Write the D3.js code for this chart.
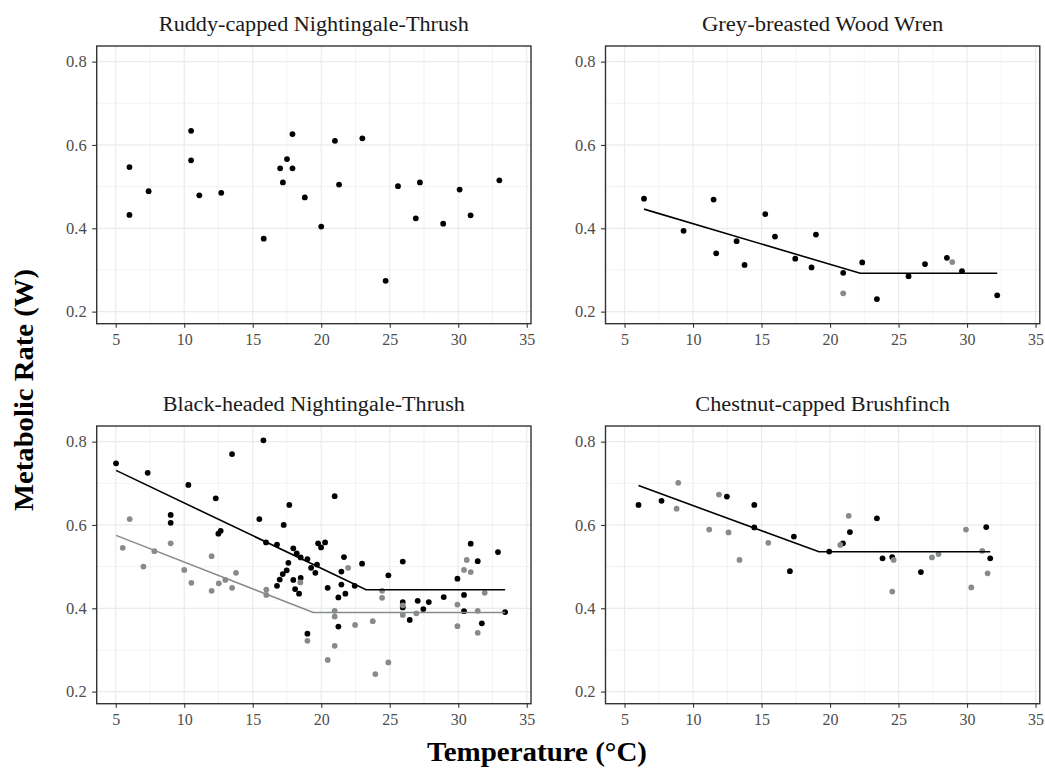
<!DOCTYPE html>
<html>
<head>
<meta charset="utf-8">
<script src="https://cdn.jsdelivr.net/npm/d3@7"></script>
<style>
  html, body { margin: 0; padding: 0; background: #ffffff; }
  svg { display: block; font-family: "Liberation Serif", "Times New Roman", serif; }
</style>
</head>
<body>
<svg id="chart" width="1045" height="772"></svg>
<script>
// ---------------- DATA ----------------
const panelTitles = [
  "Ruddy-capped Nightingale-Thrush",
  "Grey-breasted Wood Wren",
  "Black-headed Nightingale-Thrush",
  "Chestnut-capped Brushfinch"
];
const xTicks = [5, 10, 15, 20, 25, 30, 35];
const yTicks = [0.2, 0.4, 0.6, 0.8];
const xMinor = [7.5, 12.5, 17.5, 22.5, 27.5, 32.5];
const yMinor = [0.3, 0.5, 0.7];
const xLabel = "Temperature (°C)";
const yLabel = "Metabolic Rate (W)";

// Ruddy-capped Nightingale-Thrush
const ruddyBlack = [[6.0,0.547],[6.0,0.432],[7.4,0.489],[10.5,0.634],[10.5,0.563],[11.1,0.479],[12.7,0.485],[15.8,0.375],[17.0,0.544],[17.5,0.566],[17.9,0.626],[17.9,0.544],[17.2,0.510],[18.8,0.474],[20.0,0.404],[21.0,0.610],[21.3,0.505],[23.0,0.616],[24.7,0.274],[25.6,0.501],[27.2,0.510],[26.9,0.424],[28.9,0.411],[30.1,0.493],[30.9,0.431],[33.0,0.515]];
const ruddyGrey = [];
const ruddyLineBlack = [];
const ruddyLineGrey = [];

// Grey-breasted Wood Wren
const wrenBlack = [[6.42,0.471],[9.31,0.394],[11.5,0.469],[11.69,0.340],[13.18,0.369],[13.76,0.312],[15.27,0.434],[15.98,0.380],[17.46,0.327],[18.97,0.385],[18.65,0.306],[20.96,0.293],[22.35,0.318],[23.42,0.230],[25.73,0.285],[26.93,0.314],[28.53,0.329],[29.63,0.297],[32.2,0.239]];
const wrenGrey = [[20.96,0.244],[28.92,0.319]];
const wrenLineBlack = [[6.42,0.446],[22.2,0.292],[32.2,0.292]];
const wrenLineGrey = [];

// Black-headed Nightingale-Thrush
const bhBlack = [[5.02,0.748],[7.33,0.725],[10.3,0.696],[9.01,0.624],[9.01,0.605],[12.3,0.664],[13.49,0.770],[12.49,0.579],[12.66,0.586],
  [15.78,0.803],[15.48,0.614],[17.67,0.648],[17.26,0.600],[15.97,0.558],[16.77,0.553],[17.96,0.544],[18.21,0.532],[18.5,0.522],[18.99,0.518],[19.26,0.497],[19.69,0.505],[19.57,0.485],[19.77,0.556],[19.99,0.546],[20.28,0.558],[17.6,0.509],[17.48,0.491],[17.19,0.482],[16.97,0.469],[16.77,0.454],[17.96,0.468],[18.5,0.473],[18.09,0.446],[18.38,0.435],[20.98,0.669],[21.66,0.523],[21.47,0.488],[21.47,0.457],[20.47,0.449],[21.25,0.426],[21.76,0.435],[22.98,0.507],[22.44,0.454],[18.99,0.339],[21.25,0.356],[24.9,0.479],
  [25.95,0.512],[25.95,0.415],[25.95,0.402],[26.46,0.372],[27.04,0.418],[27.45,0.398],[27.85,0.415],[28.94,0.427],[29.94,0.471],[30.42,0.432],[30.42,0.393],[30.91,0.555],[31.42,0.513],[31.72,0.364],[32.9,0.535],[33.42,0.391]];
const bhGrey = [[6.02,0.614],[5.51,0.545],[7.02,0.500],[7.82,0.537],[9.01,0.556],[10.0,0.492],[10.52,0.461],[12.0,0.525],[12.0,0.442],[12.52,0.460],[13.0,0.468],[13.49,0.449],[13.78,0.485],
  [18.47,0.462],[15.99,0.445],[15.99,0.432],[21.96,0.497],[18.99,0.322],[20.98,0.394],[20.98,0.380],[20.98,0.310],[20.47,0.276],[22.47,0.360],[23.76,0.369],[23.95,0.242],[24.44,0.442],[24.44,0.425],[24.9,0.270],
  [25.95,0.407],[25.95,0.384],[26.94,0.388],[29.94,0.409],[29.94,0.357],[30.42,0.492],[30.91,0.487],[30.62,0.516],[31.42,0.394],[31.42,0.341],[31.93,0.437]];
const bhLineBlack = [[5.02,0.731],[23.27,0.4445],[33.42,0.4445]];
const bhLineGrey = [[5.02,0.575],[19.42,0.390],[33.42,0.390]];

// Chestnut-capped Brushfinch
const ccBlack = [[6.02,0.648],[7.7,0.658],[12.47,0.668],[14.47,0.648],[14.47,0.594],[17.07,0.489],[17.36,0.572],[19.94,0.536],[20.94,0.556],[21.45,0.583],[23.42,0.616],[23.83,0.520],[24.54,0.523],[26.63,0.487],[31.4,0.595],[31.69,0.520]];
const ccGrey = [[8.92,0.701],[8.8,0.639],[11.89,0.673],[11.18,0.589],[12.59,0.582],[13.39,0.516],[15.49,0.557],[20.75,0.552],[21.36,0.622],[24.64,0.516],[24.54,0.440],[27.44,0.522],[27.92,0.530],[29.92,0.589],[30.31,0.450],[31.11,0.538],[31.5,0.484]];
const ccLineBlack = [[6.02,0.6945],[19.19,0.5356],[31.69,0.5356]];
const ccLineGrey = [];

// ---------------- LAYOUT ----------------
const W = 1045, H = 772;
const colX = [96.7, 605.5];
const rowY = [46, 426];
const pw = 434.3, ph = 277.7;
const xDomain = [3.61, 35.31];
const yDomain = [0.171, 0.8375];
const BLACK = "#000000", GREY = "#878c8b";
const titleWidths = [310, 241.5, 302, 254.6];

const panels = [
  {title: panelTitles[0], black: ruddyBlack, grey: ruddyGrey, lb: ruddyLineBlack, lg: ruddyLineGrey, c: 0, r: 0, tw: titleWidths[0]},
  {title: panelTitles[1], black: wrenBlack, grey: wrenGrey, lb: wrenLineBlack, lg: wrenLineGrey, c: 1, r: 0, tw: titleWidths[1]},
  {title: panelTitles[2], black: bhBlack, grey: bhGrey, lb: bhLineBlack, lg: bhLineGrey, c: 0, r: 1, tw: titleWidths[2]},
  {title: panelTitles[3], black: ccBlack, grey: ccGrey, lb: ccLineBlack, lg: ccLineGrey, c: 1, r: 1, tw: titleWidths[3]}
];

const svg = d3.select("#chart");
svg.append("rect").attr("width", W).attr("height", H).attr("fill", "#fff");

panels.forEach(p => {
  const x0 = colX[p.c], y0 = rowY[p.r];
  const g = svg.append("g").attr("transform", `translate(${x0},${y0})`);
  const x = d3.scaleLinear().domain(xDomain).range([0, pw]);
  const y = d3.scaleLinear().domain(yDomain).range([ph, 0]);

  // minor grid
  g.append("g").selectAll("line.vm").data(xMinor).join("line")
    .attr("x1", d => x(d)).attr("x2", d => x(d)).attr("y1", 0).attr("y2", ph)
    .attr("stroke", "#ebebeb").attr("stroke-width", 0.6);
  g.append("g").selectAll("line.hm").data(yMinor).join("line")
    .attr("y1", d => y(d)).attr("y2", d => y(d)).attr("x1", 0).attr("x2", pw)
    .attr("stroke", "#ebebeb").attr("stroke-width", 0.6);
  // major grid
  g.append("g").selectAll("line.vM").data(xTicks).join("line")
    .attr("x1", d => x(d)).attr("x2", d => x(d)).attr("y1", 0).attr("y2", ph)
    .attr("stroke", "#ebebeb").attr("stroke-width", 1.2);
  g.append("g").selectAll("line.hM").data(yTicks).join("line")
    .attr("y1", d => y(d)).attr("y2", d => y(d)).attr("x1", 0).attr("x2", pw)
    .attr("stroke", "#ebebeb").attr("stroke-width", 1.2);

  // axes
  const xAxis = d3.axisBottom(x).tickValues(xTicks).tickSize(4).tickPadding(6).tickFormat(d3.format("d"));
  const gx = g.append("g").attr("transform", `translate(0,${ph})`).call(xAxis);
  gx.select(".domain").remove();
  gx.selectAll(".tick line").attr("stroke", "#333333").attr("stroke-width", 1.1);
  gx.selectAll(".tick text").attr("fill", "#4d4d4d").attr("font-size", 16)
    .attr("font-family", "'Liberation Serif', serif").attr("dy", "0.71em");

  const yAxis = d3.axisLeft(y).tickValues(yTicks).tickSize(4.5).tickPadding(5.5).tickFormat(d3.format(".1f"));
  const gy = g.append("g").call(yAxis);
  gy.select(".domain").remove();
  gy.selectAll(".tick line").attr("stroke", "#333333").attr("stroke-width", 1.1);
  gy.selectAll(".tick text").attr("fill", "#4d4d4d").attr("font-size", 16.5)
    .attr("font-family", "'Liberation Serif', serif");

  // points
  g.append("g").selectAll("circle.b").data(p.black).join("circle")
    .attr("cx", d => x(d[0])).attr("cy", d => y(d[1])).attr("r", 2.9).attr("fill", BLACK);
  g.append("g").selectAll("circle.g").data(p.grey).join("circle")
    .attr("cx", d => x(d[0])).attr("cy", d => y(d[1])).attr("r", 2.9).attr("fill", GREY);

  // fitted broken-stick lines
  const line = d3.line().x(d => x(d[0])).y(d => y(d[1]));
  if (p.lb.length) g.append("path").datum(p.lb).attr("d", line)
    .attr("fill", "none").attr("stroke", BLACK).attr("stroke-width", 1.6);
  if (p.lg.length) g.append("path").datum(p.lg).attr("d", line)
    .attr("fill", "none").attr("stroke", GREY).attr("stroke-width", 1.6);

  // border
  g.append("rect").attr("x", 0).attr("y", 0).attr("width", pw).attr("height", ph)
    .attr("fill", "none").attr("stroke", "#333333").attr("stroke-width", 1.4);

  // panel title
  g.append("text").attr("x", pw / 2).attr("y", -15)
    .attr("text-anchor", "middle").attr("font-size", 20).attr("fill", "#1a1a1a")
    .attr("textLength", p.tw).attr("lengthAdjust", "spacingAndGlyphs")
    .text(p.title);
});

// axis titles
svg.append("text").attr("x", 537).attr("y", 761)
  .attr("text-anchor", "middle").attr("font-size", 27).attr("font-weight", "bold").attr("fill", "#000")
  .attr("textLength", 220).attr("lengthAdjust", "spacingAndGlyphs")
  .text(xLabel);
svg.append("text").attr("transform", "translate(33,390) rotate(-90)")
  .attr("text-anchor", "middle").attr("font-size", 27).attr("font-weight", "bold").attr("fill", "#000")
  .attr("textLength", 242).attr("lengthAdjust", "spacingAndGlyphs")
  .text(yLabel);
</script>
</body>
</html>
